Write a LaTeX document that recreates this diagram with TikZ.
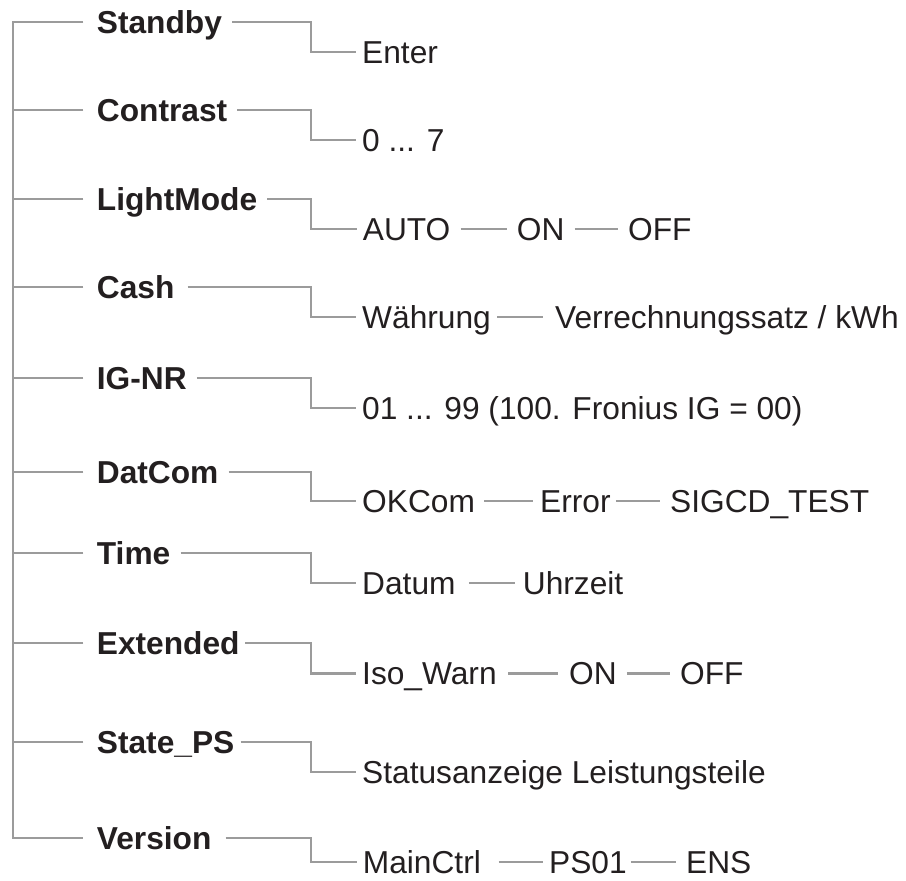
\documentclass[tikz,border=0pt]{standalone}
\usepackage{fontspec}
\setmainfont{Liberation Sans}
\usetikzlibrary{positioning}
\definecolor{linkgray}{HTML}{9B9B9B}
\definecolor{menutext}{HTML}{231F20}

\begin{document}
\begin{tikzpicture}[x=1pt, y=-1pt,
  menu/.style={anchor=west, inner sep=0pt, text=menutext, text height=22.7pt,
               text depth=0pt, font=\fontsize{31.7}{38}\selectfont\bfseries},
  item/.style={anchor=west, inner sep=0pt, text=menutext, text height=22.7pt,
               text depth=0pt, font=\fontsize{31.7}{38}\selectfont},
  tree/.style={draw=linkgray, line width=2.2pt, shorten <=13.4pt},
  branch/.style={draw=linkgray, line width=2.2pt, shorten <=10pt, shorten >=6pt},
  link/.style={draw=linkgray, line width=2.2pt, shorten <=10pt, shorten >=10pt},
]
\useasboundingbox (0,0) rectangle (906,881);
\coordinate (trunk) at (12.7,21.7);
\coordinate (knee) at (311,0);
% ---- menu entries
\node[menu] (standby)  at (96.7, 21.7) {Standby};
\node[menu] (contrast) at (96.7,110.0) {Contrast};
\node[menu] (light)    at (96.7,199.0) {LightMode};
\node[menu] (cash)     at (96.7,286.7) {Cash};
\node[menu] (ignr)     at (96.7,378.0) {IG-NR};
\node[menu] (datcom)   at (96.7,471.7) {DatCom};
\node[menu] (time)     at (96.7,553.3) {Time};
\node[menu] (extended) at (96.7,643.3) {Extended};
\node[menu] (stateps)  at (96.7,741.7) {State\_PS};
\node[menu] (version)  at (96.7,838.0) {Version};
% ---- trunk and ticks
\draw[tree, shorten >=13.4pt] (standby.west) -- (standby.west -| trunk)
  -- (version.west -| trunk) -- (version.west);
\foreach \n in {contrast, light, cash, ignr, datcom, time, extended, stateps}
  \draw[tree] (\n.west) -- (\n.west -| trunk);
% ---- settings of each entry
\node[item] (enter)  at (362, 51.7) {Enter};
\node[item] (range)  at (362,140.0) {0 ... 7};
\node[item] (auto)   at (362.7,229.3) {AUTO};
\node[item] (lon)    at (516.7,229.3) {ON};
\node[item] (loff)   at (628,229.3) {OFF};
\node[item] (curr)   at (362,317.0) {Währung};
\node[item] (rate)   at (555,317.0) {Verrechnungssatz / kWh};
\node[item] (number) at (362,408.0) {01 ... 99 (100. Fronius IG = 00)};
\node[item] (okcom)  at (362,501.0) {OKCom};
\node[item] (error)  at (540,501.0) {Error};
\node[item] (sigcd)  at (670,501.0) {SIGCD\_TEST};
\node[item] (date)   at (362,583.3) {Datum};
\node[item] (clock)  at (522.7,583.3) {Uhrzeit};
\node[item] (iso)    at (362,673.5) {Iso\_Warn};
\node[item] (ison)   at (569,673.5) {ON};
\node[item] (isoff)  at (680,673.5) {OFF};
\node[item] (status) at (362,771.7) {Statusanzeige Leistungsteile};
\node[item] (main)   at (362.7,862.0) {MainCtrl};
\node[item] (ps)     at (549,862.0) {PS01};
\node[item] (ens)    at (686,862.0) {ENS};
% ---- entry -> first setting
\draw[branch] (standby.east) -- (standby.east -| knee) |- (enter.west);
\draw[branch] (contrast.east) -- (contrast.east -| knee) |- (range.west);
\draw[branch] (light.east) -- (light.east -| knee) |- (auto.west);
\draw[branch, shorten <=13pt] (cash.east) -- (cash.east -| knee) |- (curr.west);
\draw[branch] (ignr.east) -- (ignr.east -| knee) |- (number.west);
\draw[branch] (datcom.east) -- (datcom.east -| knee) |- (okcom.west);
\draw[branch] (time.east) -- (time.east -| knee) |- (date.west);
\draw[branch, shorten <=5.5pt] (extended.east) -- (extended.east -| knee) |- (iso.west);
\draw[branch, shorten <=6pt] (stateps.east) -- (stateps.east -| knee) |- (status.west);
\draw[branch, shorten <=14pt] (version.east) -- (version.east -| knee) |- (main.west);
% ---- chained settings
\draw[link] (auto.east) -- (lon.west);
\draw[link] (lon.east) -- (loff.west);
\draw[link, shorten <=6pt, shorten >=12pt] (curr.east) -- (rate.west);
\draw[link, shorten <=9pt, shorten >=7pt] (okcom.east) -- (error.west);
\draw[link, shorten <=5pt] (error.east) -- (sigcd.west);
\draw[link, shorten <=13pt, shorten >=8pt] (date.east) -- (clock.west);
\draw[link, shorten <=11.5pt, shorten >=11.5pt] (iso.east) -- (ison.west);
\draw[link] (ison.east) -- (isoff.west);
\draw[link, shorten <=17.5pt, shorten >=6pt] (main.east) -- (ps.west);
\draw[link, shorten <=4pt] (ps.east) -- (ens.west);
\end{tikzpicture}
\end{document}
